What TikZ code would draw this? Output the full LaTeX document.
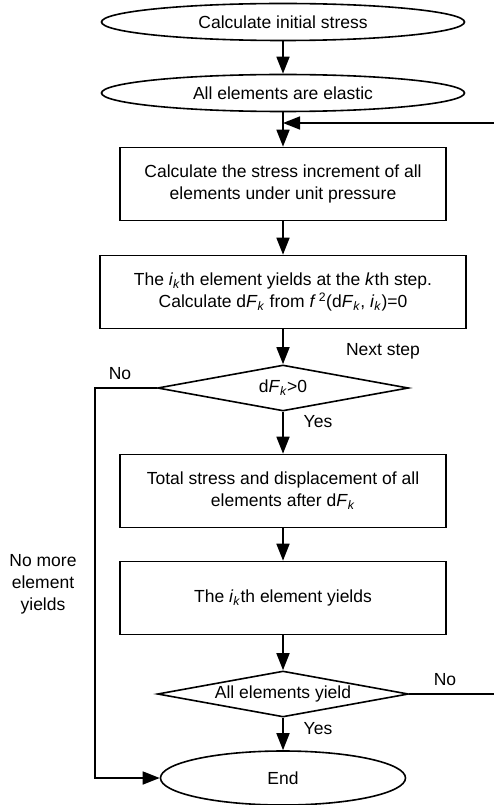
\documentclass[tikz,border=0pt]{standalone}
\usepackage{fontspec}
\setmainfont{Liberation Sans}
\usetikzlibrary{shapes.geometric,arrows.meta}
\newcommand{\ik}{\textit{i}\textsubscript{\textit{k}}}
\newcommand{\dFk}{d\textit{F}\textsubscript{\textit{k}}}
\begin{document}
\begin{tikzpicture}[x=1pt,y=-1pt,line width=1.6pt,
    every node/.style={font=\fontsize{17.5}{22}\selectfont},
    every label/.style={font=\fontsize{17.5}{22}\selectfont},
    oval/.style={draw,ellipse,inner sep=0pt},
    box/.style={draw,rectangle,align=center,minimum height=73pt},
    decide/.style={draw,diamond,inner sep=0pt,minimum width=251pt,minimum height=46pt},
    flow/.style={-{Triangle[length=17pt,width=13pt]}}]
                \useasboundingbox (0,0) rectangle (493,805);
                \node[oval,minimum width=363pt,minimum height=37pt] (start) at (283,22) {Calculate initial stress};
                \node[oval,minimum width=363pt,minimum height=37pt] (elastic) at (283,93) {All elements are elastic};
                \node[box,minimum width=326pt] (incr) at (283,184) {Calculate the stress increment of all\\elements under unit pressure};
                \node[box,minimum width=366pt] (stepk) at (283,292) {The \ik th element yields at the \textit{k}th step.\\Calculate \dFk\ from \textit{f}\,\textsuperscript{2}(\dFk, \ik)=0};
                \node[decide,label={center:\dFk>0}] (check) at (283,388) {};
                \node[box,minimum width=326pt] (total) at (283,491) {Total stress and displacement of all\\elements after \dFk};
                \node[box,minimum width=326pt] (yieldk) at (283,598) {The \ik th element yields};
                \node[decide,label={center:All elements yield}] (allyield) at (283,694) {};
                \node[oval,minimum width=245pt,minimum height=54pt] (end) at (283,778) {End};
                \node (nextstep) at (383,351) {Next step};
                \node (no1) at (120,374) {No};
                \node (yes1) at (318,422) {Yes};
                \node (no2) at (445,680) {No};
                \node (yes2) at (318,729) {Yes};
                \node[align=center] (nomore) at (43,584) {No more\\element\\yields};
                \coordinate (merge) at (283,123);
                \coordinate (farright) at (500,694);
                \coordinate (farleft) at (95,388);
                \draw[flow] (start) -- (elastic);
                \draw[flow] (elastic) -- (incr);
                \draw[flow] (incr) -- (stepk);
                \draw[flow] (stepk) -- (check);
                \draw[flow] (check) -- (total);
                \draw[flow] (total) -- (yieldk);
                \draw[flow] (yieldk) -- (allyield);
                \draw[flow] (allyield) -- (end);
                \draw[flow] (allyield.east) -- (farright) |- (merge);
                \draw[flow] (check.west) -- (farleft) |- (end.west);
            \end{tikzpicture}
\end{document}
